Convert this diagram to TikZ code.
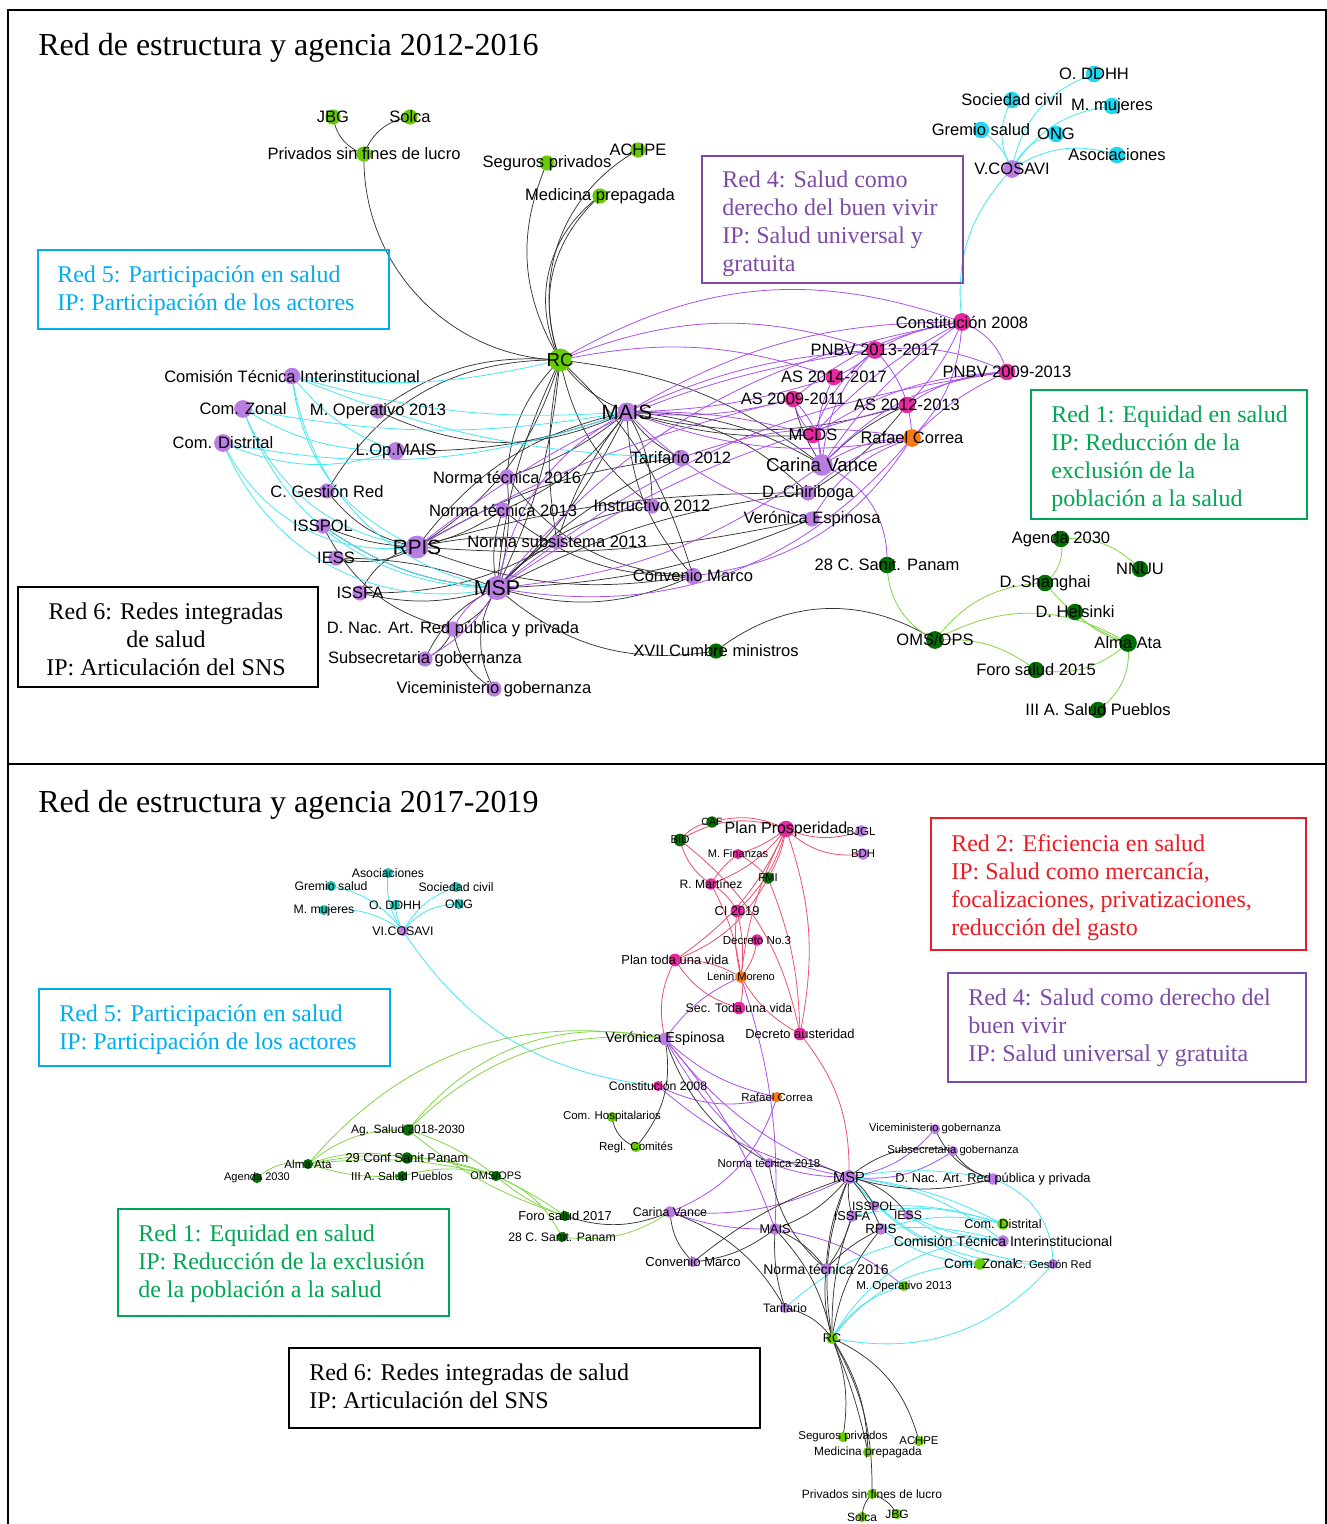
\documentclass[tikz,border=0pt]{standalone}
\usepackage{fontspec}
\setmainfont{Liberation Serif}
\newfontfamily\lab{Liberation Sans}
\definecolor{cLg}{RGB}{102,204,0}
\definecolor{cDg}{RGB}{0,110,0}
\definecolor{cPu}{RGB}{185,125,225}
\definecolor{cPk}{RGB}{230,40,160}
\definecolor{cOr}{RGB}{250,120,20}
\definecolor{cCy}{RGB}{30,215,240}
\definecolor{cTe}{RGB}{30,195,180}
\definecolor{eK}{RGB}{50,50,50}
\definecolor{eP}{RGB}{170,80,240}
\definecolor{eC}{RGB}{70,232,245}
\definecolor{eG}{RGB}{130,215,70}
\definecolor{eR}{RGB}{240,80,110}
\definecolor{bCy}{RGB}{0,174,239}
\definecolor{bPu}{RGB}{125,75,165}
\definecolor{bGr}{RGB}{0,166,81}
\definecolor{bRd}{RGB}{237,28,36}
\pgfdeclarelayer{bgl}
\pgfdeclarelayer{edges}
\pgfsetlayers{bgl,edges,main}
\tikzset{
 dot/.style={circle,inner sep=0pt,draw=none},
 lbl/.style={inner sep=0pt,text=black},
 ek/.style={draw=eK,line width=0.55pt},
 ep/.style={draw=eP,line width=0.6pt},
 ec/.style={draw=eC,line width=0.6pt},
 eg/.style={draw=eG,line width=0.6pt},
 er/.style={draw=eR,line width=0.6pt},
 boxtext/.style={inner sep=0pt,anchor=north west,align=left,font=\fontsize{18}{21}\selectfont},
 frame/.style={line width=0.9pt},
 ttl/.style={inner sep=0pt,anchor=base west,font=\fontsize{24}{28}\selectfont}
}
\newcommand\nd[6]{\node[dot,fill=#4,minimum size={#5*0.95pt}] (#1) at (#2) {};\node[lbl,font=\lab\fontsize{#6}{#6}\selectfont] (#1l) at (#2) {#3};}
\newcommand\ed[4][20]{\draw[#2] (#3.center) to[bend left=#1] (#4.center);}
\begin{document}
\begin{tikzpicture}[x=0.75pt,y=-0.75pt]
\useasboundingbox (0,0) rectangle (1327,1524);
\begin{pgfonlayer}{bgl}
\fill[white] (0,0) rectangle (1327,1524);
\end{pgfonlayer}
\draw[line width=0.8pt] (8,10) rectangle (1326,1530);
\draw[line width=0.8pt] (8,764) -- (1326,764);
\node[ttl] (title1) at (38,55) {Red de estructura y agencia 2012-2016};
\node[ttl] (title2) at (38,812) {Red de estructura y agencia 2017-2019};
% ---------- boxes top
\draw[frame,bCy] (38,250) rectangle (389,329);
\node[boxtext,text=bCy] (r5t) at (57,266) {Red 5: Participación en salud\\IP: Participación de los actores};
\draw[frame,bPu] (702,156) rectangle (963,283);
\node[boxtext,text=bPu] (r4t) at (722,171) {Red 4: Salud como\\derecho del buen vivir\\IP: Salud universal y\\gratuita};
\draw[frame,bGr] (1031,390) rectangle (1307,519);
\node[boxtext,text=bGr] (r1t) at (1051,406) {Red 1: Equidad en salud\\IP: Reducción de la\\exclusión de la\\población a la salud};
\draw[frame,black] (18,587) rectangle (318,687);
\node[boxtext,align=center,anchor=north] (r6t) at (166,603) {Red 6: Redes integradas\\de salud\\IP: Articulación del SNS};
% ---------- boxes bottom
\draw[frame,bRd] (931,818) rectangle (1306,950);
\node[boxtext,text=bRd] (r2b) at (951,834) {Red 2: Eficiencia en salud\\IP: Salud como mercancía,\\focalizaciones, privatizaciones,\\reducción del gasto};
\draw[frame,bPu] (948,973) rectangle (1306,1082);
\node[boxtext,text=bPu] (r4b) at (968,989) {Red 4: Salud como derecho del\\buen vivir\\IP: Salud universal y gratuita};
\draw[frame,bCy] (39,989) rectangle (390,1066);
\node[boxtext,text=bCy] (r5b) at (59,1005) {Red 5: Participación en salud\\IP: Participación de los actores};
\draw[frame,bGr] (118,1209) rectangle (449,1316);
\node[boxtext,text=bGr] (r1b) at (138,1225) {Red 1: Equidad en salud\\IP: Reducción de la exclusión\\de la población a la salud};
\draw[frame,black] (289,1348) rectangle (760,1428);
\node[boxtext] (r6b) at (309,1364) {Red 6: Redes integradas de salud\\IP: Articulación del SNS};
% ---------- top nodes
\nd{tJBG}{333,117}{JBG}{cLg}{12}{12.4}
\nd{tSol}{410,117}{Solca}{cLg}{12}{12.4}
\nd{tPriv}{364,154}{Privados sin fines de lucro}{cLg}{12}{12.4}
\nd{tSeg}{547,163}{Seguros privados}{cLg}{12}{12.4}
\nd{tACH}{638,150}{ACHPE}{cLg}{12}{12.4}
\nd{tMed}{600,196}{Medicina prepagada}{cLg}{12}{12.4}
\nd{tRC}{560,360}{RC}{cLg}{18}{14}
\nd{tODD}{1094,74}{O. DDHH}{cCy}{13}{12.4}
\nd{tSoc}{1012,100}{Sociedad civil}{cCy}{13}{12.4}
\nd{tMMu}{1112,106}{M. mujeres}{cCy}{13}{12.4}
\nd{tGre}{981,130}{Gremio salud}{cCy}{13}{12.4}
\nd{tONG}{1056,134}{ONG}{cCy}{13}{12.4}
\nd{tAso}{1117,155}{Asociaciones}{cCy}{13}{12.4}
\nd{tVCO}{1012,169}{V.COSAVI}{cPu}{14}{12.4}
\nd{tComT}{292,376}{Comisión Técnica Interinstitucional}{cPu}{13}{12.4}
\nd{tCZo}{243,409}{Com. Zonal}{cPu}{14}{12.4}
\nd{tMOp}{378,411}{M. Operativo 2013}{cPu}{12}{12.4}
\nd{tCDi}{223,443}{Com. Distrital}{cPu}{14}{12.4}
\nd{tLOp}{396,451}{L.Op.MAIS}{cPu}{14}{12.4}
\nd{tCGR}{327,491}{C. Gestión Red}{cPu}{12}{12.4}
\nd{tISP}{323,526}{ISSPOL}{cPu}{12}{12.4}
\nd{tRPIS}{417,547}{RPIS}{cPu}{18}{15.5}
\nd{tIESS}{336,558}{IESS}{cPu}{12}{12.4}
\nd{tISF}{360,593}{ISSFA}{cPu}{12}{12.4}
\nd{tDNac}{453,629}{D. Nac. Art. Red pública y privada}{cPu}{12}{12.4}
\nd{tSub}{425,659}{Subsecretaria gobernanza}{cPu}{12}{12.4}
\nd{tVic}{494,689}{Viceministerio gobernanza}{cPu}{12}{12.4}
\nd{tMAIS}{627,412}{MAIS}{cPu}{15}{15.5}
\nd{tTar}{681,458}{Tarifario 2012}{cPu}{13}{12.4}
\nd{tNT16}{507,477}{Norma técnica 2016}{cPu}{12}{12.4}
\nd{tNT13}{503,510}{Norma técnica 2013}{cPu}{12}{12.4}
\nd{tIns}{652,506}{Instructivo 2012}{cPu}{12}{12.4}
\nd{tNS13}{557,542}{Norma subsistema 2013}{cPu}{12}{12.4}
\nd{tConv}{693,576}{Convenio Marco}{cPu}{13}{12.4}
\nd{tMSP}{497,588}{MSP}{cPu}{19}{16}
\nd{tCon}{962,322}{Constitución 2008}{cPk}{14}{12.4}
\nd{tPN13}{875,350}{PNBV 2013-2017}{cPk}{14}{12.4}
\nd{tPN09}{1007,372}{PNBV 2009-2013}{cPk}{13}{12.4}
\nd{tAS14}{834,377}{AS 2014-2017}{cPk}{13}{12.4}
\nd{tAS09}{793,399}{AS 2009-2011}{cPk}{13}{12.4}
\nd{tAS12}{907,405}{AS 2012-2013}{cPk}{13}{12.4}
\nd{tMCDS}{813,435}{MCDS}{cPk}{13}{12.4}
\nd{tRaf}{912,438}{Rafael Correa}{cOr}{14}{12.4}
\nd{tCar}{822,465}{Carina Vance}{cPu}{17}{14}
\nd{tDCh}{808,493}{D. Chiriboga}{cPu}{12}{12.4}
\nd{tVEs}{812,519}{Verónica Espinosa}{cPu}{12}{12.4}
\nd{tAg30}{1061,539}{Agenda 2030}{cDg}{13}{12.4}
\nd{tNNU}{1140,569}{NNUU}{cDg}{13}{12.4}
\nd{t28C}{887,565}{28 C. Sanit. Panam}{cDg}{13}{12.4}
\nd{tDSh}{1045,583}{D. Shanghai}{cDg}{13}{12.4}
\nd{tDHe}{1075,612}{D. Helsinki}{cDg}{13}{12.4}
\nd{tOMS}{935,640}{OMS/OPS}{cDg}{14}{12.4}
\nd{tAlm}{1128,643}{Alma Ata}{cDg}{14}{12.4}
\nd{tFor}{1036,670}{Foro salud 2015}{cDg}{13}{12.4}
\nd{tIII}{1098,710}{III A. Salud Pueblos}{cDg}{13}{12.4}
\nd{tXVII}{716,651}{XVII Cumbre ministros}{cDg}{12}{12.4}
% ---------- bottom nodes
\nd{bCAF}{712,822}{CAF}{cDg}{9}{7.9}
\nd{bPP}{786,829}{Plan Prosperidad}{cPk}{13}{12}
\nd{bBJ}{861,831}{BJGL}{cPu}{9}{8.7}
\nd{bBID}{680,840}{BID}{cDg}{10}{8.5}
\nd{bBDH}{863,854}{BDH}{cPu}{9}{8.5}
\nd{bMF}{738,854}{M. Finanzas}{cPk}{8}{8.3}
\nd{bRM}{711,884}{R. Martínez}{cPk}{9}{9.1}
\nd{bFMI}{768,878}{FMI}{cDg}{9}{8.5}
\nd{bCI}{737,911}{CI 2019}{cPk}{10}{9.6}
\nd{bD3}{757,940}{Decreto No.3}{cPk}{9}{8.7}
\nd{bPTV}{675,960}{Plan toda una vida}{cPk}{10}{9.7}
\nd{bLM}{741,977}{Lenin Moreno}{cOr}{9}{8.3}
\nd{bSTV}{739,1008}{Sec. Toda una vida}{cPk}{10}{9.3}
\nd{bDA}{800,1034}{Decreto austeridad}{cPk}{10}{9.7}
\nd{bVE}{665,1039}{Verónica Espinosa}{cPu}{10}{10.8}
\nd{bAso}{388,873}{Asociaciones}{cTe}{8}{9.2}
\nd{bGre}{331,886}{Gremio salud}{cTe}{8}{9.2}
\nd{bSoc}{456,887}{Sociedad civil}{cTe}{8}{9.2}
\nd{bODD}{395,905}{O. DDHH}{cTe}{8}{9.2}
\nd{bONG}{459,904}{ONG}{cTe}{8}{9.2}
\nd{bMMu}{324,910}{M. mujeres}{cTe}{8}{9.2}
\nd{bVCO}{403,931}{VI.COSAVI}{cPu}{8}{9.3}
\nd{bCon}{658,1086}{Constitución 2008}{cPk}{8}{9.2}
\nd{bRaf}{777,1097}{Rafael Correa}{cOr}{8}{8.6}
\nd{bCH}{612,1117}{Com. Hospitalarios}{cLg}{8}{8.6}
\nd{bRC2}{636,1147}{Regl. Comités}{cLg}{8}{8.7}
\nd{bAgS}{408,1130}{Ag. Salud 2018-2030}{cDg}{9}{9}
\nd{bAlm}{308,1164}{Alma Ata}{cDg}{8}{8.7}
\nd{bAg30}{257,1178}{Agenda 2030}{cDg}{8}{8.3}
\nd{b29C}{407,1158}{29 Conf Sanit Panam}{cDg}{9}{9.7}
\nd{bIII}{402,1176}{III A. Salud Pueblos}{cDg}{8}{8.7}
\nd{bOMS}{496,1176}{OMS/OPS}{cDg}{8}{8.2}
\nd{bFor}{565,1216}{Foro salud 2017}{cDg}{8}{9.7}
\nd{b28C}{562,1237}{28 C. Sanit. Panam}{cDg}{8}{9.2}
\nd{bNT18}{769,1163}{Norma técnica 2018}{cPu}{8}{8.6}
\nd{bMSP}{849,1177}{MSP}{cPu}{11}{11}
\nd{bCar}{670,1212}{Carina Vance}{cPu}{9}{9.3}
\nd{bMAIS}{775,1229}{MAIS}{cPu}{9}{9.5}
\nd{bISF}{852,1216}{ISSFA}{cPu}{9}{9.6}
\nd{bConv}{693,1262}{Convenio Marco}{cPu}{8}{9.8}
\nd{bNT16}{826,1269}{Norma técnica 2016}{cPu}{9}{10.5}
\nd{bTar}{785,1308}{Tarifario}{cPu}{8}{9.2}
\nd{bVic}{935,1129}{Viceministerio gobernanza}{cPu}{8}{8.4}
\nd{bSub}{953,1151}{Subsecretaria gobernanza}{cPu}{8}{8.4}
\nd{bDNac}{993,1179}{D. Nac. Art. Red pública y privada}{cPu}{9}{9.6}
\nd{bISP}{874,1206}{ISSPOL}{cPu}{8}{9.1}
\nd{bIESS}{908,1215}{IESS}{cPu}{8}{9.2}
\nd{bRPIS}{881,1229}{RPIS}{cPu}{9}{10}
\nd{bCDi}{1003,1224}{Com. Distrital}{cLg}{9}{9.5}
\nd{bComT}{1003,1241}{Comisión Técnica Interinstitucional}{cPu}{9}{10.6}
\nd{bCZo}{980,1264}{Com. Zonal}{cLg}{9}{10.2}
\nd{bCGR}{1053,1264}{C. Gestión Red}{cPu}{8}{8.4}
\nd{bMOp}{904,1286}{M. Operativo 2013}{cLg}{8}{8.7}
\nd{bRC}{832,1338}{RC}{cLg}{9}{9.4}
\nd{bSeg}{843,1437}{Seguros privados}{cLg}{8}{8.6}
\nd{bACH}{919,1441}{ACHPE}{cLg}{8}{8.5}
\nd{bMed}{868,1452}{Medicina prepagada}{cLg}{8}{8.9}
\nd{bPriv}{872,1494}{Privados sin fines de lucro}{cLg}{8}{9}
\nd{bSol}{862,1517}{Solca}{cLg}{8}{9}
\nd{bJBG}{897,1514}{JBG}{cLg}{8}{9}
% ================= edges
\begin{pgfonlayer}{edges}
% ---- top black
\ed[-45]{ek}{tPriv}{tRC}
\ed[-30]{ek}{tJBG}{tPriv}
\ed[-30]{ek}{tSol}{tPriv}
\ed[27]{ek}{tRC}{tSeg}
\ed[40]{ek}{tRC}{tMed}
\ed[34]{ek}{tRC}{tMed}
\ed[40]{ek}{tRC}{tACH}
\ed[-15]{ek}{tRC}{tMAIS}
\ed[10]{ek}{tRC}{tMSP}
\ed[-10]{ek}{tRC}{tMSP}
\ed[20]{ek}{tRC}{tRPIS}
\ed[-20]{ek}{tRC}{tNT16}
\ed[-10]{ek}{tRC}{tNS13}
\ed[15]{ek}{tRC}{tConv}
\ed[-20]{ek}{tRC}{tIns}
\ed[-20]{ek}{tRC}{tMOp}
\ed[30]{ek}{tCGR}{tRC}
\ed[15]{ek}{tRC}{tCar}
\ed[-15]{ek}{tMAIS}{tTar}
\ed[15]{ek}{tMAIS}{tIns}
\ed[-20]{ek}{tMAIS}{tConv}
\ed[15]{ek}{tMAIS}{tNT13}
\ed[-10]{ek}{tMAIS}{tNS13}
\ed[10]{ek}{tMAIS}{tMSP}
\ed[-20]{ek}{tMAIS}{tRPIS}
\ed[10]{ek}{tMAIS}{tNT16}
\ed[15]{ek}{tMAIS}{tCar}
\ed[-10]{ek}{tMAIS}{tMCDS}
\ed[-15]{ek}{tMAIS}{tAS12}
\ed[20]{ek}{tMAIS}{tDCh}
\ed[-25]{ek}{tMOp}{tMAIS}
\ed[-10]{ek}{tLOp}{tMAIS}
\ed[15]{ek}{tMSP}{tISF}
\ed[-10]{ek}{tMSP}{tIESS}
\ed[15]{ek}{tMSP}{tISP}
\ed[20]{ek}{tMSP}{tDNac}
\ed[-20]{ek}{tMSP}{tSub}
\ed[-30]{ek}{tMSP}{tVic}
\ed[15]{ek}{tMSP}{tNT13}
\ed[-10]{ek}{tMSP}{tNT16}
\ed[10]{ek}{tMSP}{tNS13}
\ed[-20]{ek}{tMSP}{tConv}
\ed[-25]{ek}{tMSP}{tXVII}
\ed[20]{ek}{tMSP}{tIns}
\ed[10]{ek}{tMSP}{tTar}
\ed[10]{ek}{tMSP}{tDCh}
\ed[-10]{ek}{tMSP}{tVEs}
\ed[20]{ek}{tRPIS}{tIESS}
\ed[-25]{ek}{tRPIS}{tISF}
\ed[10]{ek}{tRPIS}{tISP}
\ed[20]{ek}{tRPIS}{tCGR}
\ed[10]{ek}{tRPIS}{tNS13}
\ed[-15]{ek}{tRPIS}{tConv}
\ed[8]{ek}{tRPIS}{tDCh}
\ed[-8]{ek}{tRPIS}{tVEs}
\ed[-10]{ek}{tRPIS}{tNT13}
\ed[12]{ek}{tRPIS}{tTar}
\ed[-25]{ek}{tISP}{tDNac}
\ed[-15]{ek}{tISF}{tNS13}
\ed[-25]{ek}{tDNac}{tVic}
\ed[20]{ek}{tDNac}{tSub}
\ed[35]{ek}{tXVII}{tOMS}
\ed[10]{ek}{tCar}{tAS12}
\ed[-10]{ek}{tDCh}{tAS12}
\ed[10]{ek}{tCar}{tAS09}
\ed[-20]{ek}{tNT13}{tConv}
\ed[-25]{ek}{tNT16}{tConv}
% ---- top purple
\ed[25]{ep}{tRC}{tCon}
\ed[20]{ep}{tRC}{tPN13}
\ed[15]{ep}{tRC}{tAS14}
\ed[15]{ep}{tMAIS}{tCon}
\ed[10]{ep}{tMAIS}{tPN13}
\ed[-8]{ep}{tMAIS}{tAS14}
\ed[-10]{ep}{tMAIS}{tAS09}
\ed[-15]{ep}{tMAIS}{tRaf}
\ed[8]{ep}{tMAIS}{tMCDS}
\ed[20]{ep}{tMSP}{tCon}
\ed[15]{ep}{tMSP}{tPN09}
\ed[10]{ep}{tMSP}{tAS12}
\ed[-30]{ep}{tMSP}{tRaf}
\ed[-15]{ep}{tMSP}{tCar}
\ed[-20]{ep}{tMSP}{tDNac}
\ed[15]{ep}{tMSP}{tSub}
\ed[25]{ep}{tMSP}{tMAIS}
\ed[15]{ep}{tRPIS}{tPN13}
\ed[8]{ep}{tRPIS}{tAS09}
\ed[-10]{ep}{tCon}{tPN13}
\ed[25]{ep}{tCon}{tPN09}
\ed[-15]{ep}{tCon}{tAS09}
\ed[10]{ep}{tCon}{tAS12}
\ed[-10]{ep}{tCon}{tMCDS}
\ed[20]{ep}{tCon}{tRaf}
\ed[-10]{ep}{tCon}{tCar}
\ed[10]{ep}{tPN13}{tAS14}
\ed[-15]{ep}{tPN13}{tMCDS}
\ed[20]{ep}{tPN13}{tRaf}
\ed[15]{ep}{tPN13}{tPN09}
\ed[-20]{ep}{tPN13}{tCar}
\ed[-15]{ep}{tPN09}{tAS12}
\ed[-20]{ep}{tPN09}{tCar}
\ed[-15]{ep}{tPN09}{tMCDS}
\ed[-10]{ep}{tPN09}{tRaf}
\ed[-15]{ep}{tAS09}{tMCDS}
\ed[20]{ep}{tAS09}{tCar}
\ed[-20]{ep}{tAS14}{tCar}
\ed[-15]{ep}{tRaf}{tCar}
\ed[-15]{ep}{tRaf}{tDCh}
\ed[-20]{ep}{tRaf}{tVEs}
\ed[35]{ep}{tCar}{t28C}
\ed[15]{ep}{tTar}{tRaf}
\ed[-25]{ep}{tConv}{tRaf}
\ed[-15]{ep}{tMAIS}{tVEs}
% ---- top cyan
\ed[-35]{ec}{tComT}{tMSP}
\ed[-30]{ec}{tComT}{tRPIS}
\ed[-10]{ec}{tComT}{tMAIS}
\ed[-10]{ec}{tComT}{tRC}
\ed[-15]{ec}{tComT}{tLOp}
\ed[-10]{ec}{tComT}{tTar}
\ed[-35]{ec}{tCZo}{tMSP}
\ed[-30]{ec}{tCZo}{tRPIS}
\ed[-15]{ec}{tCZo}{tLOp}
\ed[-10]{ec}{tCZo}{tMAIS}
\ed[-40]{ec}{tCDi}{tMSP}
\ed[-35]{ec}{tCDi}{tRPIS}
\ed[-20]{ec}{tCDi}{tLOp}
\ed[-15]{ec}{tCDi}{tMAIS}
\ed[-15]{ec}{tISP}{tMSP}
\ed[-25]{ec}{tVCO}{tCon}
\ed[30]{ec}{tVCO}{tSoc}
\ed[-15]{ec}{tVCO}{tGre}
\ed[30]{ec}{tVCO}{tODD}
\ed[25]{ec}{tVCO}{tMMu}
\ed[25]{ec}{tVCO}{tONG}
\ed[25]{ec}{tVCO}{tAso}
% ---- top green
\ed[30]{eg}{tOMS}{t28C}
\ed[25]{eg}{tOMS}{tDSh}
\ed[30]{eg}{tOMS}{tAlm}
\ed[20]{eg}{tOMS}{tFor}
\ed[25]{eg}{tAg30}{tNNU}
\ed[30]{eg}{tAg30}{tDSh}
\ed[-15]{eg}{tDSh}{tAlm}
\ed[-15]{eg}{tDHe}{tAlm}
\ed[-25]{eg}{tFor}{tAlm}
\ed[30]{eg}{tAlm}{tIII}
% ---- bottom red
\ed[-20]{er}{bPP}{bCAF}
\ed[-25]{er}{bPP}{bBID}
\ed[-20]{er}{bPP}{bBJ}
\ed[-25]{er}{bPP}{bBDH}
\ed[10]{er}{bPP}{bMF}
\ed[15]{er}{bPP}{bRM}
\ed[10]{er}{bPP}{bFMI}
\ed[15]{er}{bPP}{bCI}
\ed[-10]{er}{bPP}{bLM}
\ed[15]{er}{bPP}{bDA}
\ed[15]{er}{bPP}{bPTV}
\ed[-20]{er}{bCAF}{bBID}
\ed[-20]{er}{bBID}{bRM}
\ed[20]{er}{bBID}{bDA}
\ed[-10]{er}{bMF}{bRM}
\ed[10]{er}{bMF}{bFMI}
\ed[15]{er}{bRM}{bCI}
\ed[10]{er}{bRM}{bLM}
\ed[20]{er}{bFMI}{bPTV}
\ed[10]{er}{bFMI}{bDA}
\ed[10]{er}{bCI}{bLM}
\ed[-10]{er}{bCI}{bLM}
\ed[15]{er}{bD3}{bLM}
\ed[15]{er}{bPTV}{bLM}
\ed[-20]{er}{bPTV}{bVE}
\ed[-20]{er}{bPTV}{bSTV}
\ed[15]{er}{bLM}{bSTV}
\ed[-15]{er}{bLM}{bDA}
\ed[20]{er}{bDA}{bMSP}
% ---- bottom purple
\ed[-15]{ep}{bLM}{bVE}
\ed[10]{ep}{bLM}{bMAIS}
\ed[-15]{ep}{bVE}{bRaf}
\ed[-15]{ep}{bVE}{bMSP}
\ed[10]{ep}{bVE}{bMAIS}
\ed[-10]{ep}{bVE}{bNT18}
\ed[-20]{ep}{bCon}{bRaf}
\ed[-15]{ep}{bCon}{bMSP}
\ed[25]{ep}{bRaf}{bCar}
\ed[-15]{ep}{bCar}{bMSP}
\ed[-10]{ep}{bCar}{bMAIS}
\ed[-20]{ep}{bMSP}{bVic}
\ed[-20]{ep}{bMSP}{bSub}
\ed[10]{ep}{bMSP}{bNT18}
\ed[15]{ep}{bMAIS}{bMOp}
% ---- bottom cyan
\ed[-25]{ec}{bVCO}{bCon}
\ed[20]{ec}{bVCO}{bAso}
\ed[-20]{ec}{bVCO}{bGre}
\ed[20]{ec}{bVCO}{bSoc}
\ed[10]{ec}{bVCO}{bODD}
\ed[25]{ec}{bVCO}{bONG}
\ed[-20]{ec}{bVCO}{bMMu}
\ed[10]{ec}{bMSP}{bCDi}
\ed[15]{ec}{bMSP}{bComT}
\ed[-15]{ec}{bMSP}{bCZo}
\ed[-25]{ec}{bMSP}{bCGR}
\ed[10]{ec}{bMSP}{bDNac}
\ed[10]{ec}{bRPIS}{bComT}
\ed[-15]{ec}{bRPIS}{bCZo}
\ed[15]{ec}{bRPIS}{bCDi}
\ed[10]{ec}{bISP}{bCDi}
\ed[-10]{ec}{bIESS}{bComT}
\ed[-15]{ec}{bIESS}{bCGR}
\ed[25]{ec}{bRC}{bCZo}
\ed[30]{ec}{bRC}{bComT}
\ed[-30]{ec}{bRC}{bCGR}
\ed[20]{ec}{bRC}{bMOp}
\ed[25]{ec}{bTar}{bComT}
\ed[35]{ec}{bDNac}{bCGR}
\ed[15]{ec}{bISF}{bCDi}
% ---- bottom black
\ed[15]{ek}{bRC}{bSeg}
\ed[15]{ek}{bRC}{bMed}
\ed[5]{ek}{bRC}{bMed}
\ed[25]{ek}{bRC}{bACH}
\ed[15]{ek}{bRC}{bPriv}
\ed[-20]{ek}{bPriv}{bSol}
\ed[20]{ek}{bPriv}{bJBG}
\ed[15]{ek}{bRC}{bMSP}
\ed[10]{ek}{bRC}{bNT16}
\ed[-15]{ek}{bRC}{bMAIS}
\ed[-20]{ek}{bRC}{bTar}
\ed[15]{ek}{bRC}{bRPIS}
\ed[10]{ek}{bRC}{bISF}
\ed[-15]{ek}{bMSP}{bNT18}
\ed[15]{ek}{bMSP}{bISP}
\ed[-10]{ek}{bMSP}{bISF}
\ed[20]{ek}{bMSP}{bIESS}
\ed[10]{ek}{bMSP}{bRPIS}
\ed[15]{ek}{bMSP}{bMAIS}
\ed[-10]{ek}{bMSP}{bConv}
\ed[-10]{ek}{bMSP}{bNT16}
\ed[25]{ek}{bMSP}{bSub}
\ed[-15]{ek}{bMSP}{bDNac}
\ed[20]{ek}{bNT18}{bVE}
\ed[-20]{ek}{bNT18}{bNT16}
\ed[-20]{ek}{bCar}{bConv}
\ed[20]{ek}{bCar}{bTar}
\ed[20]{ek}{bCar}{bFor}
\ed[15]{ek}{bMAIS}{bConv}
\ed[-10]{ek}{bMAIS}{bTar}
\ed[15]{ek}{bMAIS}{bNT16}
\ed[-30]{ek}{bCH}{bRC2}
\ed[-25]{ek}{bRC2}{bVE}
\ed[20]{ek}{bDNac}{bSub}
\ed[25]{ek}{bDNac}{bVic}
\ed[10]{ek}{bISF}{bNT16}
\ed[-10]{ek}{bRPIS}{bNT16}
% ---- bottom green
\ed[-25]{eg}{bVE}{bAgS}
\ed[-32]{eg}{bVE}{bAgS}
\ed[-30]{eg}{bVE}{bAlm}
\ed[-25]{eg}{bAlm}{bAg30}
\ed[20]{eg}{bAlm}{bAgS}
\ed[15]{eg}{bAlm}{b29C}
\ed[15]{eg}{bAlm}{bOMS}
\ed[10]{eg}{bAlm}{bOMS}
\ed[-10]{eg}{bAlm}{bIII}
\ed[10]{eg}{bAgS}{bOMS}
\ed[-10]{eg}{bAgS}{bFor}
\ed[-10]{eg}{bOMS}{bFor}
\ed[5]{eg}{bOMS}{bFor}
\ed[20]{eg}{bOMS}{b28C}
\ed[-20]{eg}{b28C}{bCar}
\ed[10]{eg}{b29C}{bOMS}
\ed[15]{eg}{bIII}{bOMS}
\end{pgfonlayer}
\end{tikzpicture}
\end{document}
